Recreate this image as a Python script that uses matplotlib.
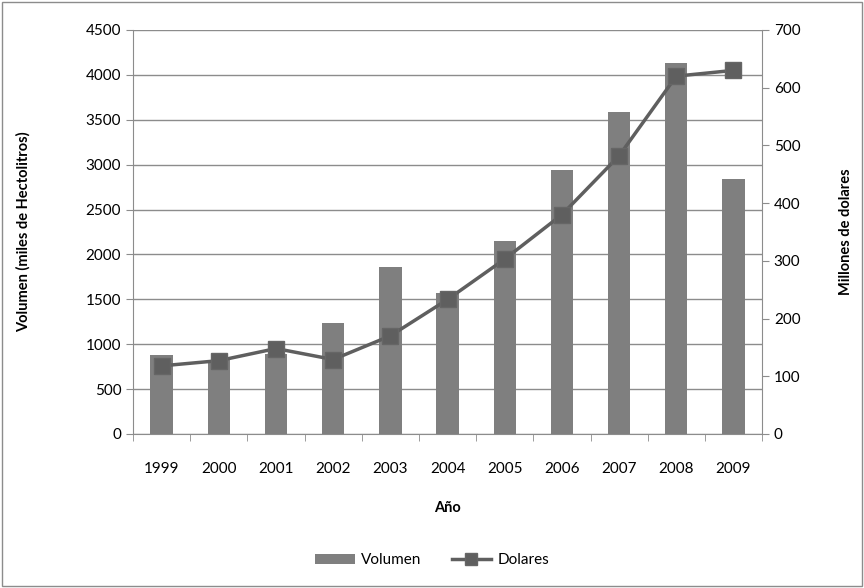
import matplotlib.pyplot as plt
from matplotlib.patches import Rectangle

plt.rcParams['font.family'] = ['Lato', 'DejaVu Sans']

years = ['1999', '2000', '2001', '2002', '2003', '2004', '2005', '2006', '2007', '2008', '2009']
volumen = [880, 825, 890, 1240, 1855, 1565, 2150, 2935, 3585, 4130, 2835]
dolares = [118, 127, 148, 129, 170, 233, 303, 380, 482, 620, 630]

bar_color = '#7f7f7f'
line_color = '#5f5f5f'
axis_color = '#8c8c8c'

fig = plt.figure(figsize=(8.64, 5.88), dpi=100)
ax = fig.add_axes([0.154, 0.262, 0.728, 0.687])
x = list(range(len(years)))

ax.bar(x, volumen, width=0.39, color=bar_color, zorder=2, label='Volumen')
ax.set_ylim(0, 4500)
ax.set_yticks(range(0, 4501, 500))
ax.set_xlim(-0.5, len(years) - 0.5)
ax.set_xticks(x)
ax.set_xticklabels(years)
ax.set_xticks([i - 0.5 for i in range(len(years) + 1)], minor=True)
ax.tick_params(axis='x', which='major', length=0, pad=20, labelsize=11)
ax.tick_params(axis='x', which='minor', length=5, color=axis_color, direction='out')
ax.tick_params(axis='y', length=5, color=axis_color, labelsize=11)
ax.grid(axis='y', color=axis_color, linewidth=1, zorder=0)
for s in ['top', 'right']:
    ax.spines[s].set_visible(False)
for s in ['left', 'bottom']:
    ax.spines[s].set_color(axis_color)
ax.set_ylabel('Volumen (miles de Hectolitros)', fontsize=10.5, fontweight='bold', labelpad=40)
ax.set_xlabel('Año', fontsize=10.5, fontweight='bold', labelpad=18)

ax2 = ax.twinx()
ax2.plot(x, dolares, color=line_color, linewidth=2.5, marker='s', markersize=11,
         markerfacecolor=line_color, markeredgecolor='#666666', zorder=3, label='Dolares')
ax2.set_ylim(0, 700)
ax2.set_yticks(range(0, 701, 100))
ax2.tick_params(axis='y', length=5, color=axis_color, labelsize=11)
for s in ['top', 'left', 'bottom']:
    ax2.spines[s].set_visible(False)
ax2.spines['right'].set_color(axis_color)
ax2.set_ylabel('Millones de dolares', fontsize=10.5, fontweight='bold', labelpad=28)

h1, l1 = ax.get_legend_handles_labels()
h2, l2 = ax2.get_legend_handles_labels()
fig.legend(h1 + h2, l1 + l2, loc='center', bbox_to_anchor=(0.5, 0.047), ncol=2,
           frameon=False, fontsize=11, handlelength=2.6, handletextpad=0.4,
           columnspacing=2.0, markerscale=0.75)

fig.patches.append(Rectangle((0.002, 0.003), 0.996, 0.994, transform=fig.transFigure,
                             fill=False, edgecolor='#8c8c8c', linewidth=1))

fig.savefig('out.png', dpi=100)
